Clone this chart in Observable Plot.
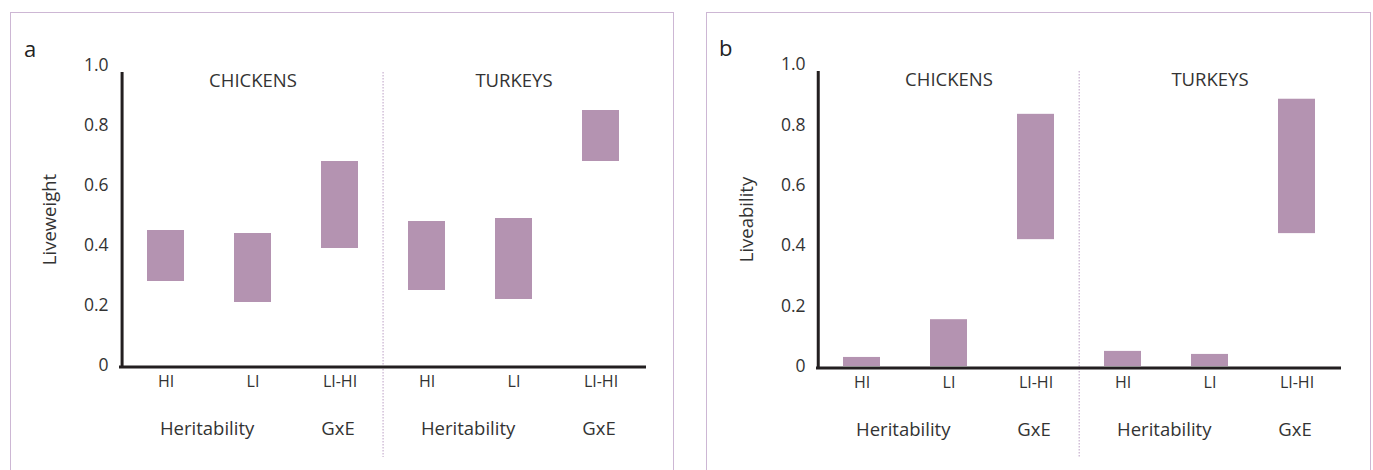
<!DOCTYPE html>
<html>
<head>
<meta charset="utf-8">
<script src="https://cdn.jsdelivr.net/npm/d3@7"></script>
<script src="https://cdn.jsdelivr.net/npm/@observablehq/plot@0.6"></script>
<style>
  html, body { margin: 0; padding: 0; background: #fff; }
  #root { position: relative; width: 1373px; height: 470px; overflow: hidden; font-family: "Open Sans", sans-serif; }
  .frame { position: absolute; border: 1.5px solid #cdb7d4; box-sizing: border-box; }
  .panel { position: absolute; top: 0; width: 690px; height: 470px; }
  .panel svg { max-width: none !important; }
  .tag { position: absolute; font-size: 22px; color: #222; font-family: "Open Sans", sans-serif; }
</style>
</head>
<body>
<div id="root">
  <div class="frame" style="left:10px; top:12px; width:664px; height:480px;"></div>
  <div class="frame" style="left:706px; top:12px; width:665px; height:480px;"></div>
  <div class="tag" style="left:24px; top:33px;">a</div>
  <div class="tag" style="left:719px; top:32px;">b</div>
  <div class="panel" id="pa" style="left:0px;"></div>
  <div class="panel" id="pb" style="left:697px;"></div>
</div>
<script>
// ---- data ----
const groups = ["CHICKENS", "TURKEYS"];
const treatments = ["HI", "LI", "LI-HI"];
const sourceLabels = ["Heritability", "GxE"];
const yTicks = [0, 0.2, 0.4, 0.6, 0.8, 1.0];

// Panel a: Liveweight ranges (chickens HI, LI, LI-HI, turkeys HI, LI, LI-HI)
const liveweightLow  = [0.28, 0.21, 0.39, 0.25, 0.22, 0.68];
const liveweightHigh = [0.45, 0.44, 0.68, 0.48, 0.49, 0.85];
// Panel b: Liveability ranges
const liveabilityLow  = [0, 0, 0.42, 0, 0, 0.44];
const liveabilityHigh = [0.03, 0.155, 0.835, 0.05, 0.04, 0.885];

const keys = [];
groups.forEach(g => treatments.forEach(t => keys.push(g + "|" + t)));

function makePanel(lows, highs, yLabel, W, mT, mB) {
  const H = 470, mL = 119, mR = 44;
  const step = (W - mL - mR) / keys.length;
  const rows = keys.map((k, i) => ({key: k, lo: lows[i], hi: highs[i]}));
  const grpLabels = groups.map(g => ({key: g + "|LI", text: g}));
  const herLabels = groups.map(g => ({key: g + "|LI", text: sourceLabels[0]}));
  const gxeLabels = groups.map(g => ({key: g + "|LI-HI", text: sourceLabels[1]}));
  const textColor = "#333";
  return Plot.plot({
    width: W, height: H,
    marginLeft: mL, marginRight: mR, marginTop: mT, marginBottom: mB,
    style: {fontFamily: "'Open Sans', sans-serif", fontSize: "16px", color: textColor, background: "transparent", overflow: "visible"},
    x: {domain: keys, paddingInner: 0.58, paddingOuter: 0.29, align: 0.5, axis: null},
    y: {domain: [0, 1], axis: null},
    marks: [
      Plot.barY(rows, {x: "key", y1: "lo", y2: "hi", fill: "#b493b1"}),
      // dotted separator between the two groups
      Plot.ruleX([groups[1] + "|HI"], {x: d => d, dx: -step / 2, stroke: "#d2bfd8", strokeWidth: 1.5, strokeDasharray: "1.5,1.5", insetTop: 7, insetBottom: -92}),
      // y axis line
      Plot.ruleX([keys[0]], {x: d => d, dx: -step / 2, stroke: "#231f20", strokeWidth: 3, insetTop: 7, insetBottom: -3}),
      // baseline
      Plot.ruleY([0], {stroke: "#231f20", strokeWidth: 3, dy: 1.5}),
      Plot.axisY({ticks: yTicks, tickSize: 0, tickPadding: 11, tickFormat: d => d === 0 ? "0" : d.toFixed(1), fontSize: 17.5, label: null}),
      Plot.axisX({tickSize: 0, tickPadding: 10, tickFormat: d => d.split("|")[1], fontSize: 16, label: null}),
      Plot.text([yLabel], {frameAnchor: "left", textAnchor: "middle", text: d => d, rotate: -90, dx: -69, dy: 4, fontSize: 18.5, fill: textColor}),
      Plot.text(grpLabels, {x: "key", text: "text", frameAnchor: "top", lineAnchor: "top", dy: 8, fontSize: 18.5, fill: textColor}),
      Plot.text(herLabels, {x: "key", text: "text", dx: -step / 2 - 2, frameAnchor: "bottom", lineAnchor: "top", dy: 56, fontSize: 18.5, fill: textColor}),
      Plot.text(gxeLabels, {x: "key", text: "text", dx: -2, frameAnchor: "bottom", lineAnchor: "top", dy: 56, fontSize: 18.5, fill: textColor})
    ]
  });
}

document.getElementById("pa").append(makePanel(liveweightLow, liveweightHigh, "Liveweight", 690, 65, 105));
document.getElementById("pb").append(makePanel(liveabilityLow, liveabilityHigh, "Liveability", 688, 64, 104));
</script>
</body>
</html>
